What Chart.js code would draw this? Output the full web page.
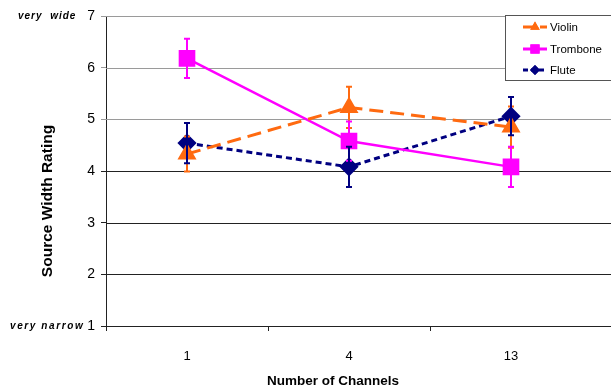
<!DOCTYPE html>
<html>
<head>
<meta charset="utf-8">
<script src="https://cdn.jsdelivr.net/npm/chart.js@4"></script>
<style>
  html, body { margin: 0; padding: 0; background: #fff; }
  #wrap { width: 611px; height: 389px; position: relative; }
</style>
</head>
<body>
<div id="wrap"><canvas id="chart"></canvas></div>
<script>
const channels = ['1', '4', '13'];
const violin = [4.33, 5.23, 4.85];
const violinErr = [0.34, 0.4, 0.4];
const trombone = [6.18, 4.58, 4.08];
const tromboneErr = [0.38, 0.38, 0.39];
const flute = [4.54, 4.08, 5.06];
const fluteErr = [0.39, 0.39, 0.37];
const yTicks = [1, 2, 3, 4, 5, 6, 7];

const FONT = '"Liberation Sans", Arial, sans-serif';

// error bars drawn through the scales
const errorBars = {
  id: 'errorBars',
  afterDatasetsDraw(chart) {
    const ctx = chart.ctx;
    const x = chart.scales.x, y = chart.scales.y;
    ctx.save();
    chart.data.datasets.forEach(ds => {
      ds.data.forEach((v, i) => {
        const px = x.getPixelForValue(i);
        const top = y.getPixelForValue(v + ds.err[i]);
        const bot = y.getPixelForValue(v - ds.err[i]);
        ctx.strokeStyle = ds.borderColor;
        ctx.lineWidth = 2;
        ctx.setLineDash([]);
        ctx.beginPath();
        ctx.moveTo(px, top); ctx.lineTo(px, bot);
        ctx.moveTo(px - 3, top); ctx.lineTo(px + 3, top);
        ctx.moveTo(px - 3, bot); ctx.lineTo(px + 3, bot);
        ctx.stroke();
      });
    });
    ctx.restore();
  }
};

// horizontal grid lines out to the right edge, titles, side labels, legend
const extras = {
  id: 'extras',
  beforeDatasetsDraw(chart) {
    const ctx = chart.ctx, y = chart.scales.y, a = chart.chartArea;
    ctx.save();
    ctx.lineWidth = 1;
    yTicks.forEach(t => {
      const py = Math.round(y.getPixelForValue(t)) + 0.5;
      ctx.strokeStyle = t >= 5 ? '#9a9a9a' : '#222';
      ctx.beginPath();
      ctx.moveTo(a.left, py); ctx.lineTo(chart.width, py);
      ctx.stroke();
    });
    ctx.restore();
  },
  afterDraw(chart) {
    const ctx = chart.ctx, y = chart.scales.y;
    ctx.save();
    ctx.fillStyle = '#000';
    // axis titles
    ctx.font = 'bold 13.5px ' + FONT;
    ctx.textAlign = 'center';
    ctx.textBaseline = 'middle';
    ctx.fillText('Number of Channels', 333, 381);
    ctx.save();
    ctx.translate(48, 201);
    ctx.rotate(-Math.PI / 2);
    ctx.font = 'bold 15.5px ' + FONT;
    ctx.fillText('Source Width Rating', 0, 0);
    ctx.restore();
    // side labels
    ctx.font = 'italic bold 10px ' + FONT;
    ctx.textAlign = 'left';
    ctx.letterSpacing = '1px';
    ctx.fillText('very  wide', 18, y.getPixelForValue(7));
    ctx.letterSpacing = '1.6px';
    ctx.fillText('very narrow', 10, y.getPixelForValue(1));
    ctx.letterSpacing = '0px';
    // legend
    const lx = 505, ly = 15;
    ctx.fillStyle = '#fff';
    ctx.fillRect(lx, ly, chart.width - lx + 5, 65);
    ctx.strokeStyle = '#555';
    ctx.lineWidth = 1;
    ctx.strokeRect(lx + 0.5, ly + 0.5, chart.width, 65);
    const rows = [27, 49, 70];
    chart.data.datasets.forEach((ds, i) => {
      const ry = rows[i];
      ctx.strokeStyle = ds.borderColor;
      ctx.lineWidth = 3;
      ctx.setLineDash(ds.legendDash);
      ctx.beginPath();
      ctx.moveTo(523, ry); ctx.lineTo(547, ry);
      ctx.stroke();
      ctx.setLineDash([]);
      ctx.fillStyle = ds.borderColor;
      Chart.helpers.drawPoint(ctx, {pointStyle: ds.pointStyle, radius: ds.legendRadius, borderWidth: 0}, 535, ry);
      ctx.fill();
      ctx.fillStyle = '#000';
      ctx.font = '11.5px ' + FONT;
      ctx.textBaseline = 'middle';
      ctx.fillText(ds.label, 550, ry + 1);
    });
    ctx.restore();
  }
};

new Chart(document.getElementById('chart'), {
  type: 'line',
  data: {
    labels: channels,
    datasets: [
      {
        label: 'Violin', data: violin, err: violinErr,
        borderColor: '#FF6A10', backgroundColor: '#FF6A10',
        borderWidth: 3, borderDash: [14, 7],
        pointStyle: 'triangle', pointRadius: 8, legendRadius: 5.5, legendDash: [14, 3],
      },
      {
        label: 'Trombone', data: trombone, err: tromboneErr,
        borderColor: '#FF00FF', backgroundColor: '#FF00FF',
        borderWidth: 2.5, borderDash: [],
        pointStyle: 'rect', pointRadius: 10, legendRadius: 6.5, legendDash: [],
      },
      {
        label: 'Flute', data: flute, err: fluteErr,
        borderColor: '#000080', backgroundColor: '#000080',
        borderWidth: 3, borderDash: [6, 4],
        pointStyle: 'rectRot', pointRadius: 7.5, legendRadius: 5, legendDash: [5, 3],
      },
    ]
  },
  options: {
    responsive: true,
    maintainAspectRatio: false,
    animation: false,
    layout: { padding: { left: 0, top: 16, right: 19, bottom: 0 } },
    plugins: { legend: { display: false }, tooltip: { enabled: false } },
    elements: { line: { tension: 0, fill: false }, point: { borderWidth: 0 } },
    scales: {
      x: {
        offset: true,
        afterFit(s) { s.height = 63; },
        grid: {
          offset: true, drawOnChartArea: false, drawTicks: true, tickLength: 5,
          color: c => (c.type === 'tick' ? '#222' : 'rgba(0,0,0,0)'),
        },
        border: { display: false },
        ticks: { color: '#000', font: { family: FONT, size: 13 }, padding: 18 },
      },
      y: {
        min: 1, max: 7,
        afterFit(s) { s.width = 106; },
        afterBuildTicks(s) { s.ticks = yTicks.map(v => ({ value: v })); },
        grid: {
          drawOnChartArea: false,
          color: c => (c.tick && c.tick.value >= 5 ? '#9a9a9a' : '#222'),
          tickLength: 5, lineWidth: 1,
        },
        border: { color: '#222', width: 1 },
        ticks: { color: '#000', font: { family: FONT, size: 14 }, padding: 6 },
      }
    }
  },
  plugins: [extras, errorBars]
});
</script>
</body>
</html>
